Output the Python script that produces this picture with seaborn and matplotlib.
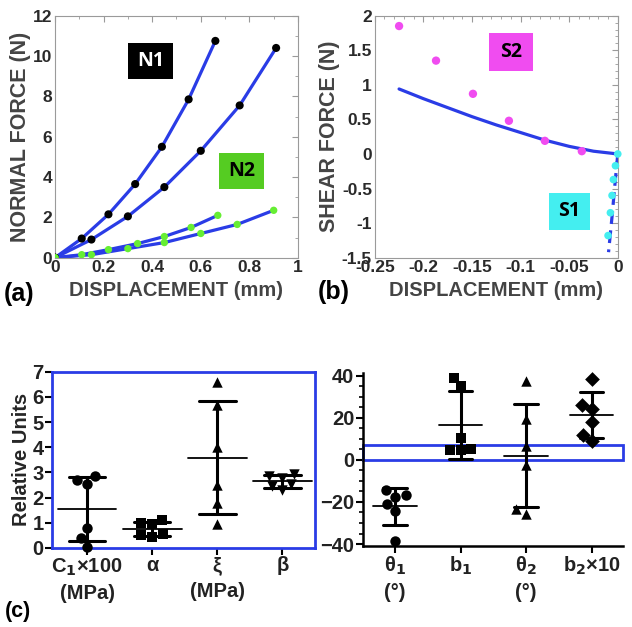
import numpy as np
import pandas as pd
import matplotlib
matplotlib.use("Agg")
import matplotlib.pyplot as plt
import seaborn as sns
from matplotlib.patches import Rectangle
from matplotlib.ticker import AutoMinorLocator, FuncFormatter, MultipleLocator

# ---------------- data ----------------
# panel (a): normal force vs displacement
n1a_x = [0, 0.11, 0.22, 0.33, 0.44, 0.55, 0.66]
n1a_y = [0, 0.95, 2.15, 3.65, 5.5, 7.85, 10.75]
n1b_x = [0, 0.15, 0.30, 0.45, 0.60, 0.76, 0.91]
n1b_y = [0, 0.9, 2.05, 3.5, 5.3, 7.55, 10.4]
n2a_x = [0, 0.11, 0.22, 0.34, 0.45, 0.56, 0.67]
n2a_y = [0, 0.15, 0.4, 0.7, 1.05, 1.5, 2.1]
n2b_x = [0, 0.15, 0.30, 0.45, 0.60, 0.75, 0.90]
n2b_y = [0, 0.15, 0.45, 0.75, 1.2, 1.65, 2.35]

# panel (b): shear force vs displacement
s2_x = [-0.225, -0.187, -0.149, -0.112, -0.075, -0.037]
s2_y = [1.85, 1.35, 0.87, 0.48, 0.19, 0.04]
s2_fit_x = [-0.225, -0.2, -0.175, -0.15, -0.125, -0.1, -0.075, -0.05, -0.025, 0.0]
s2_fit_y = [0.94, 0.80, 0.67, 0.54, 0.42, 0.31, 0.20, 0.11, 0.04, 0.0]
s1_x = [0.0, -0.0024, -0.0045, -0.0059, -0.0076, -0.0100]
s1_y = [0.0, -0.17, -0.37, -0.60, -0.85, -1.18]
s1_fit_x = [0.0, -0.003, -0.006, -0.0095]
s1_fit_y = [0.0, -0.45, -0.92, -1.42]

# panel (c): parameters
left_cats = ["C1", "alpha", "xi", "beta"]
left_labels = ["C$_\\mathbf{1}$×100\n(MPa)", "α", "ξ\n(MPa)", "β"]
c1_vals = [2.85, 2.55, 2.7, 0.8, 0.4, 0.05]
alpha_vals = [1.0, 1.1, 0.95, 0.55, 0.45, 0.5]
xi_vals = [6.6, 5.7, 4.0, 2.5, 1.8, 0.95]
beta_vals = [2.95, 2.85, 2.8, 2.55, 2.45, 2.3]

right_cats = ["theta1", "b1", "theta2", "b2"]
right_labels = ["θ$_\\mathbf{1}$\n(°)", "b$_\\mathbf{1}$", "θ$_\\mathbf{2}$\n(°)", "b$_\\mathbf{2}$×10"]
theta1_vals = [-16.5, -14.5, -17.5, -21.0, -24.5, -38.5]
b1_vals = [39.0, 35.0, 10.5, 5.0, 4.5, 4.5]
theta2_vals = [37.5, 19.5, 6.5, -2.5, -25.5, -23.5]
b2_vals = [38.5, 26.0, 24.0, 18.0, 12.0, 9.0]

# ---------------- style ----------------
sns.set_style("white")
plt.rcParams["font.family"] = ["Liberation Sans", "DejaVu Sans"]
plt.rcParams["font.weight"] = "bold"
plt.rcParams["mathtext.default"] = "bf"

BLUE = "#2a3ce6"
GREEN_PT = "#66ee33"
GREEN_BOX = "#55cc22"
MAG = "#f04cf0"
CYAN = "#44eef0"

fig = plt.figure(figsize=(6.32, 6.27), dpi=100)

def fmt_g(v, pos=None):
    s = f"{round(v, 4):g}"
    return "0" if s in ("-0", "0") else s

def matlab_axes(ax):
    for sp in ax.spines.values():
        sp.set_visible(True)
        sp.set_color("#9a9a9a")
        sp.set_linewidth(0.8)
    ax.tick_params(which="both", direction="in", top=True, right=True,
                   color="#9a9a9a", labelsize=12.5, labelcolor="#2a2a2a", pad=2)
    ax.tick_params(which="major", length=4)
    ax.tick_params(which="minor", length=2)
    ax.xaxis.set_major_formatter(FuncFormatter(fmt_g))
    ax.yaxis.set_major_formatter(FuncFormatter(fmt_g))

def label_box(ax, x0, y0, x1, y1, text, fc, tc):
    ax.add_patch(Rectangle((x0, y0), x1 - x0, y1 - y0, transform=ax.transAxes,
                           facecolor=fc, edgecolor="none", zorder=5))
    ax.text((x0 + x1) / 2, (y0 + y1) / 2, text, transform=ax.transAxes,
            ha="center", va="center", fontsize=14, fontweight="bold",
            color=tc, family=["Open Sans", "DejaVu Sans"], zorder=6)

# ---------------- panel (a) ----------------
axA = fig.add_axes([0.087, 0.589, 0.3845, 0.386])
for xs, ys, c, s in [(n1a_x, n1a_y, "black", 34), (n1b_x, n1b_y, "black", 34),
                     (n2a_x, n2a_y, GREEN_PT, 28), (n2b_x, n2b_y, GREEN_PT, 28)]:
    sns.lineplot(x=xs, y=ys, color=BLUE, lw=2.3, ax=axA, sort=False, zorder=2)
    sns.scatterplot(x=xs, y=ys, color=c, s=s, edgecolor="none", ax=axA, zorder=3)
axA.set_xlim(0, 1)
axA.set_ylim(0, 12)
axA.set_xticks(np.arange(0, 1.01, 0.2))
axA.set_yticks(np.arange(0, 12.1, 2))
axA.xaxis.set_minor_locator(AutoMinorLocator(2))
axA.yaxis.set_minor_locator(AutoMinorLocator(2))
matlab_axes(axA)
axA.set_xlabel("DISPLACEMENT (mm)", fontsize=14.5, fontweight="bold", color="#444444", labelpad=4)
axA.set_ylabel("NORMAL FORCE (N)", fontsize=15.5, fontweight="bold", color="#444444", labelpad=1)
label_box(axA, 0.30, 0.74, 0.486, 0.888, "N1", "black", "white")
label_box(axA, 0.675, 0.285, 0.86, 0.434, "N2", GREEN_BOX, "black")

# ---------------- panel (b) ----------------
axB = fig.add_axes([0.593, 0.589, 0.3845, 0.386])
sns.lineplot(x=s2_fit_x, y=s2_fit_y, color=BLUE, lw=2.3, ax=axB, sort=False, zorder=2)
sns.lineplot(x=s1_fit_x, y=s1_fit_y, color=BLUE, lw=2.3, ax=axB, sort=False,
             linestyle=(0, (4, 2)), zorder=2)
sns.scatterplot(x=s2_x, y=s2_y, color=MAG, s=36, edgecolor="none", ax=axB, zorder=3)
sns.scatterplot(x=s1_x, y=s1_y, color=CYAN, s=30, edgecolor="none", ax=axB, zorder=3,
                clip_on=False)
axB.set_xlim(-0.25, 0)
axB.set_ylim(-1.5, 2)
axB.set_xticks(np.arange(-0.25, 0.001, 0.05))
axB.set_yticks(np.arange(-1.5, 2.01, 0.5))
axB.xaxis.set_minor_locator(AutoMinorLocator(5))
axB.yaxis.set_minor_locator(AutoMinorLocator(5))
matlab_axes(axB)
axB.set_xlabel("DISPLACEMENT (mm)", fontsize=14.5, fontweight="bold", color="#444444", labelpad=4)
axB.set_ylabel("SHEAR FORCE (N)", fontsize=15.5, fontweight="bold", color="#444444", labelpad=1)
label_box(axB, 0.469, 0.773, 0.650, 0.93, "S2", MAG, "black")
label_box(axB, 0.716, 0.116, 0.885, 0.269, "S1", CYAN, "black")

# ---------------- panel (c) ----------------
def scatter_panel(ax, cats, groups, markers, size, mean_hw, cap_hw):
    df = pd.concat([pd.DataFrame({"cat": c, "val": v}) for c, v in zip(cats, groups)])
    for c, m in zip(cats, markers):
        sns.swarmplot(data=df[df["cat"] == c], x="cat", y="val", order=cats,
                      marker=m, color="black", size=size, ax=ax, zorder=3)
    for coll in ax.collections:
        coll.set_clip_on(False)
    for i, v in enumerate(groups):
        mu = np.mean(v)
        sd = np.std(v, ddof=1)
        ax.plot([i - mean_hw, i + mean_hw], [mu, mu], color="black", lw=1.3, zorder=4)
        ax.plot([i, i], [mu - sd, mu + sd], color="black", lw=2.2, zorder=4)
        for yy in (mu - sd, mu + sd):
            ax.plot([i - cap_hw, i + cap_hw], [yy, yy], color="black", lw=2.2, zorder=4)

axC = fig.add_axes([0.0823, 0.126, 0.416, 0.281])
scatter_panel(axC, left_cats, [c1_vals, alpha_vals, xi_vals, beta_vals],
              ["o", "s", "^", "v"], 7.5, 0.45, 0.28)
axC.set_xlim(-0.54, 3.5)
axC.set_ylim(0, 7)
axC.set_yticks(range(0, 8))
axC.set_xticks(range(4))
axC.set_xticklabels(left_labels)
for sp in axC.spines.values():
    sp.set_visible(True)
    sp.set_color(BLUE)
    sp.set_linewidth(2.0)
axC.tick_params(axis="both", direction="out", length=5, width=1.5, color="black",
                labelsize=14.5, pad=1, left=True, bottom=True)
axC.set_xlabel("")
axC.set_ylabel("Relative Units", fontsize=14.5, fontweight="bold", labelpad=1)

axD = fig.add_axes([0.574, 0.1292, 0.411, 0.2759])
scatter_panel(axD, right_cats, [theta1_vals, b1_vals, theta2_vals, b2_vals],
              ["o", "s", "^", "D"], 7.5, 0.33, 0.18)
axD.set_xlim(-0.49, 3.47)
axD.set_ylim(-40.9, 41.2)
axD.set_yticks([-40, -20, 0, 20, 40])
axD.yaxis.set_minor_locator(MultipleLocator(5))
axD.set_xticks(range(4))
axD.set_xticklabels(right_labels)
for name, sp in axD.spines.items():
    sp.set_visible(name in ("left", "bottom"))
    sp.set_color("black")
    sp.set_linewidth(1.8)
axD.tick_params(axis="both", which="major", direction="out", length=5, width=1.5,
                color="black", labelsize=14.5, pad=1, left=True, bottom=True)
axD.tick_params(axis="y", which="minor", direction="out", length=3, width=1.2,
                color="black", left=True)
axD.set_xlabel("")
axD.set_ylabel("")
axD.add_patch(Rectangle((0, 0), 1, 7, transform=axD.get_yaxis_transform(),
                        facecolor="none", edgecolor=BLUE, lw=2.0, zorder=2, clip_on=False))

for ax in (axC, axD):
    for lab in ax.get_xticklabels():
        lab.set_linespacing(1.45)
        lab.set_color("#222222")
        lab.set_fontweight("bold")
    for lab in ax.get_yticklabels():
        lab.set_color("#222222")
        lab.set_fontweight("bold")
for ax in (axA, axB):
    for lab in ax.get_xticklabels() + ax.get_yticklabels():
        lab.set_fontweight("bold")

# ---------------- panel letters ----------------
fig.text(0.006, 0.531, "(a)", fontsize=18, fontweight="bold", color="black", va="center")
fig.text(0.502, 0.534, "(b)", fontsize=18, fontweight="bold", color="black", va="center")
fig.text(0.008, 0.024, "(c)", fontsize=15.5, fontweight="bold", color="black", va="center")

fig.savefig("out.png", dpi=100, facecolor="white")
